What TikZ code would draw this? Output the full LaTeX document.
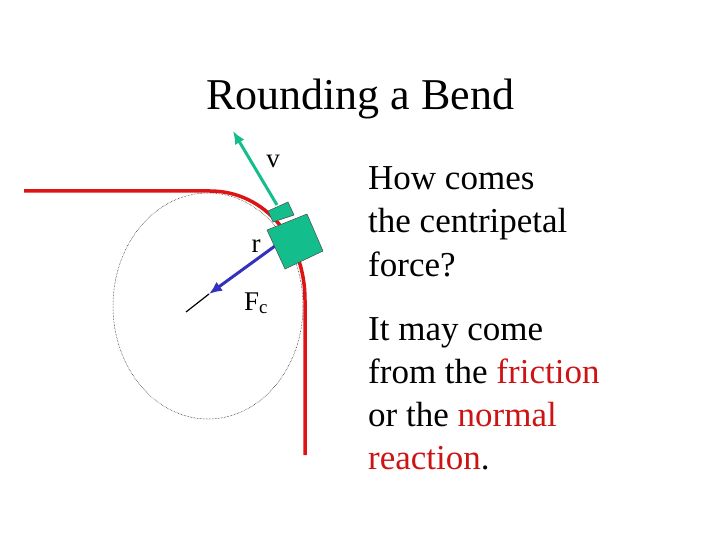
\documentclass[tikz,border=0pt]{standalone}
\usepackage{fontspec}
\setmainfont{Liberation Serif}
\usetikzlibrary{arrows.meta}
\definecolor{rd}{RGB}{222,20,20}
\definecolor{rtxt}{RGB}{205,20,20}
\definecolor{gr}{RGB}{20,190,140}
\definecolor{bl}{RGB}{50,50,190}
\begin{document}
\begin{tikzpicture}[x=1pt,y=-1pt,
  lbl/.style={inner sep=0pt,anchor=base,font=\fontsize{27}{27}\selectfont},
  body/.style={anchor=base west,inner sep=0pt,font=\fontsize{35}{35}\selectfont}]
\useasboundingbox (0,0) rectangle (720,540);
\node[inner sep=0pt,anchor=base,font=\fontsize{44}{44}\selectfont] (title) at (360,110) {Rounding a Bend};
\draw[densely dotted,line width=0.5pt] (208,306) ellipse [x radius=95, y radius=113];
\draw[rd,line width=3.5pt] (24,191) -- (210,191) .. controls (265,191) and (305,240) .. (305,300) -- (305,455);
\coordinate (c) at (186,312);
\coordinate (t) at (209,294);
\coordinate (s) at (275,246);
\draw[line width=1.2pt] (c) -- (t);
\draw[bl,line width=3pt,-{Latex[length=13pt,width=11pt]}] (s) -- (t);
\draw[gr,line width=3pt,-{Latex[length=13pt,width=11pt]}] (277,205) -- (233,131);
\filldraw[fill=gr,draw=black!70,line width=0.5pt] (268,211) -- (288,202) -- (294,215) -- (273,222) -- cycle;
\filldraw[fill=gr,draw=black!70,line width=0.5pt] (267,230) -- (307,214) -- (323,251) -- (285,269) -- cycle;
\node[lbl] (v) at (273,168) {v};
\node[lbl] (r) at (256,252) {r};
\node[lbl] (fc) at (256,310) {F\textsubscript{c}};
\node[body] (q1) at (368,190) {How comes};
\node[body] (q2) at (368,233) {the centripetal};
\node[body] (q3) at (368,276) {force?};
\node[body] (a1) at (368,340) {It may come};
\node[body] (a2) at (368,383) {from the \textcolor{rtxt}{friction}};
\node[body] (a3) at (368,426) {or the \textcolor{rtxt}{normal}};
\node[body] (a4) at (368,469) {\textcolor{rtxt}{reaction}.};
\end{tikzpicture}
\end{document}
